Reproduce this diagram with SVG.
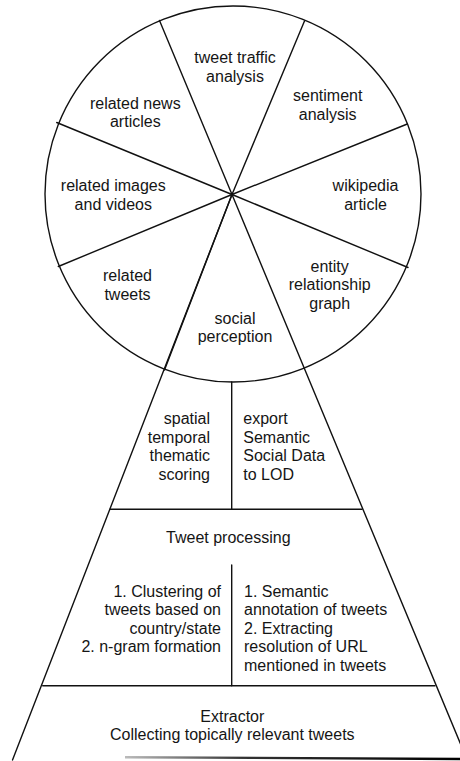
<svg xmlns="http://www.w3.org/2000/svg" width="460" height="761" viewBox="0 0 460 761">
<style>
.l{stroke:#111;stroke-width:1.4;fill:none;stroke-linecap:round}
text{font-family:"Liberation Sans",Arial,sans-serif;font-size:16px;fill:#151515}
.c{text-anchor:middle}
.r{text-anchor:end}
.s{text-anchor:start}
</style>
<defs>
<linearGradient id="bg" gradientUnits="userSpaceOnUse" x1="125" y1="0" x2="460" y2="0">
<stop offset="0" stop-color="#bbb"/>
<stop offset="0.35" stop-color="#333"/>
<stop offset="1" stop-color="#000"/>
</linearGradient>
</defs>
<rect width="460" height="761" fill="#fff"/>
<g id="connectors">
<circle class="l" cx="233" cy="194" r="188"/>
<line class="l" x1="232" y1="194.5" x2="159.5" y2="20.5"/>
<line class="l" x1="232" y1="194.5" x2="304.5" y2="21"/>
<line class="l" x1="232" y1="194.5" x2="56.7" y2="122.5"/>
<line class="l" x1="232" y1="194.5" x2="407.3" y2="124"/>
<line class="l" x1="232" y1="194.5" x2="58.3" y2="266.5"/>
<line class="l" x1="232" y1="194.5" x2="408" y2="267.5"/>
<line class="l" x1="232" y1="194.5" x2="12.5" y2="760"/>
<line class="l" x1="232" y1="194.5" x2="164.5" y2="370"/>
<line class="l" x1="232" y1="194.5" x2="461" y2="745"/>
<line class="l" x1="231.7" y1="382" x2="231.7" y2="509.3"/>
<line class="l" x1="110" y1="509.3" x2="362" y2="509.3"/>
<line class="l" x1="231.7" y1="565" x2="231.7" y2="685.7"/>
<line class="l" x1="42.7" y1="685.7" x2="435" y2="685.7"/>
<path d="M125 757.2 L460 759" stroke="url(#bg)" stroke-width="2.4" fill="none"/>
</g>
<g id="tweet-traffic"><text class="c" x="235" y="63">tweet traffic</text><text class="c" x="235" y="82">analysis</text></g>
<g id="sentiment"><text class="c" x="327.7" y="101">sentiment</text><text class="c" x="327.7" y="119.5">analysis</text></g>
<g id="news"><text class="c" x="135.3" y="108.5">related news</text><text class="c" x="135.3" y="127">articles</text></g>
<g id="images"><text class="c" x="113.3" y="191">related images</text><text class="c" x="113.3" y="209.5">and videos</text></g>
<g id="wikipedia"><text class="c" x="365.5" y="191">wikipedia</text><text class="c" x="365.5" y="209.5">article</text></g>
<g id="related-tweets"><text class="c" x="127.5" y="281">related</text><text class="c" x="127.5" y="299.5">tweets</text></g>
<g id="entity"><text class="c" x="329.7" y="272">entity</text><text class="c" x="329.7" y="290.3">relationship</text><text class="c" x="329.7" y="308.6">graph</text></g>
<g id="social"><text class="c" x="235" y="323.5">social</text><text class="c" x="235" y="342">perception</text></g>
<g id="scoring"><text class="r" x="210" y="424">spatial</text><text class="r" x="210" y="442.5">temporal</text><text class="r" x="210" y="461">thematic</text><text class="r" x="210" y="479.5">scoring</text></g>
<g id="export"><text class="s" x="243.3" y="424">export</text><text class="s" x="243.3" y="442.5">Semantic</text><text class="s" x="243.3" y="461">Social Data</text><text class="s" x="243.3" y="479.5">to LOD</text></g>
<g id="tweet-processing"><text class="c" x="228.3" y="543">Tweet processing</text></g>
<g id="clustering"><text class="r" x="221" y="597">1. Clustering of</text><text class="r" x="221" y="615.3">tweets based on</text><text class="r" x="221" y="633.6">country/state</text><text class="r" x="221" y="652.3">2. n-gram formation</text></g>
<g id="semantic"><text class="s" x="244" y="597">1. Semantic</text><text class="s" x="244" y="615.3">annotation of tweets</text><text class="s" x="244" y="633.6">2. Extracting</text><text class="s" x="244" y="652.3">resolution of URL</text><text class="s" x="244" y="671">mentioned in tweets</text></g>
<g id="extractor"><text class="c" x="232.3" y="722">Extractor</text><text class="c" x="232.3" y="740.3">Collecting topically relevant tweets</text></g>
</svg>
